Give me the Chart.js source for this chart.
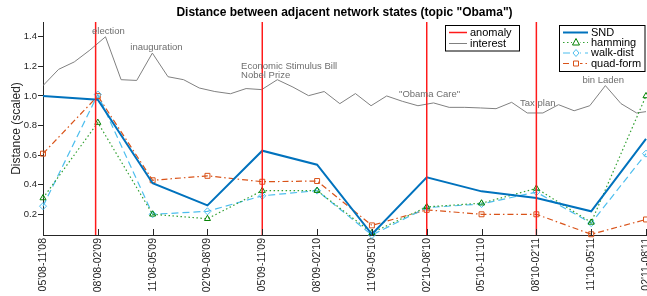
<!DOCTYPE html>
<html>
<head>
  <title>Distance between adjacent network states</title>
  <script src="https://cdn.jsdelivr.net/npm/chart.js"></script>
  <style>
    html, body { margin: 0; padding: 0; background: #fff; overflow: hidden; }
    #wrap { width: 647px; height: 296px; overflow: hidden; }
  </style>
</head>
<body>
  <div id="wrap"><canvas id="distChart" width="647" height="310"></canvas></div>

  <script>
    // 6-month windows
    const periods = ["05'08-11'08", "08'08-02'09", "11'08-05'09", "02'09-08'09", "05'09-11'09", "08'09-02'10",
                     "11'09-05'10", "02'10-08'10", "05'10-11'10", "08'10-02'11", "11'10-05'11", "02'11-08'11"];

    const snd      = [1.0, 0.975, 0.41, 0.26, 0.63, 0.535, 0.065, 0.45, 0.355, 0.31, 0.22, 0.71];
    const hamming  = [0.31, 0.82, 0.20, 0.17, 0.36, 0.36, 0.075, 0.25, 0.275, 0.375, 0.145, 1.0];
    const walkDist = [0.255, 1.01, 0.20, 0.22, 0.325, 0.36, 0.06, 0.245, 0.27, 0.35, 0.14, 0.61];
    const quadForm = [0.61, 1.0, 0.43, 0.46, 0.42, 0.425, 0.125, 0.23, 0.20, 0.20, 0.065, 0.165];

    // search interest, finer sampling than the windows
    const interest = [1.07, 1.18, 1.23, 1.31, 1.40, 1.11, 1.105, 1.29, 1.13, 1.11,
                      1.054, 1.03, 1.015, 1.05, 1.043, 1.11, 1.06, 1.002, 1.03, 0.948,
                      1.016, 0.934, 1.0, 0.964, 0.934, 0.953, 0.923, 0.923, 0.919, 0.914,
                      0.957, 0.885, 0.885, 0.941, 0.90, 0.934, 1.07, 0.948, 0.885, 0.90];

    // anomalies (window index)
    const anomalyAt = [0.96, 4, 7, 9];

    const eventNames = ['election', 'inauguration', 'Economic Stimulus Bill', 'Nobel Prize', '"Obama Care"', 'Tax plan', 'bin Laden'];

    const FONT = '"Liberation Sans", Arial, Helvetica, sans-serif';
    const AXIS = '#262626';
    const RED = '#ff1a1a';

    Chart.defaults.font.family = FONT;

    // where the event labels sit (interest index, value)
    const eventPos = [[3.14, 1.436], [5.59, 1.326], [12.68, 1.203], [12.68, 1.14], [22.79, 1.012], [30.54, 0.95], [34.53, 1.105]];

    function line(ctx, x1, y1, x2, y2) {
      ctx.beginPath(); ctx.moveTo(x1, y1); ctx.lineTo(x2, y2); ctx.stroke();
    }

    function marker(ctx, style, x, y, color) {
      ctx.save();
      ctx.setLineDash([]);
      ctx.strokeStyle = color;
      ctx.lineWidth = 1;
      ctx.beginPath();
      if (style === 'triangle') {
        ctx.moveTo(x, y - 4); ctx.lineTo(x + 3.5, y + 2.5); ctx.lineTo(x - 3.5, y + 2.5); ctx.closePath();
      } else if (style === 'rectRot') {
        ctx.moveTo(x, y - 3.5); ctx.lineTo(x + 3, y); ctx.lineTo(x, y + 3.5); ctx.lineTo(x - 3, y); ctx.closePath();
      } else if (style === 'rect') {
        ctx.rect(x - 2.5, y - 2.5, 5, 5);
      }
      ctx.stroke();
      ctx.restore();
    }

    const overlay = {
      id: 'overlay',
      afterDatasetsDraw(chart) {
        const { ctx, chartArea: a, scales: { x, x2, y } } = chart;
        ctx.save();

        // anomaly lines
        ctx.strokeStyle = RED;
        ctx.lineWidth = 1.5;
        anomalyAt.forEach(v => {
          const px = x.getPixelForValue(v);
          line(ctx, px, a.top, px, a.bottom);
        });

        // x ticks, pointing inward
        ctx.strokeStyle = AXIS;
        ctx.lineWidth = 1;
        periods.forEach((p, i) => {
          const px = Math.round(x.getPixelForValue(i)) + 0.5;
          line(ctx, px, a.bottom, px, a.bottom - 6);
        });

        // event labels
        ctx.fillStyle = '#6e6e6e';
        ctx.font = '9.5px ' + FONT;
        ctx.textAlign = 'left';
        ctx.textBaseline = 'middle';
        eventNames.forEach((t, i) => {
          ctx.fillText(t, x2.getPixelForValue(eventPos[i][0]), y.getPixelForValue(eventPos[i][1]));
        });

        // title
        ctx.fillStyle = '#000';
        ctx.font = 'bold 12px ' + FONT;
        ctx.textAlign = 'center';
        ctx.fillText('Distance between adjacent network states (topic "Obama")', (a.left + a.right) / 2, 13);

        // legend 1
        ctx.font = '11px ' + FONT;
        ctx.textAlign = 'left';
        ctx.fillStyle = '#fff';
        ctx.fillRect(445.5, 25.5, 74, 25.5);
        ctx.strokeStyle = '#000';
        ctx.strokeRect(445.5, 25.5, 74, 25.5);
        ctx.lineWidth = 1.5;
        ctx.strokeStyle = RED;
        line(ctx, 449, 32.5, 467, 32.5);
        ctx.lineWidth = 1;
        ctx.strokeStyle = '#808080';
        line(ctx, 449, 43.5, 467, 43.5);
        ctx.fillStyle = '#000';
        ctx.fillText('anomaly', 470, 32.5);
        ctx.fillText('interest', 470, 43.5);

        // legend 2
        ctx.fillStyle = '#fff';
        ctx.fillRect(559.5, 25.5, 85.5, 46);
        ctx.strokeStyle = '#000';
        ctx.strokeRect(559.5, 25.5, 85.5, 46);
        const rows = [32.5, 42.5, 53, 63.5];
        chart.data.datasets.slice(0, 4).forEach((ds, i) => {
          const ly = rows[i];
          ctx.save();
          ctx.strokeStyle = ds.borderColor;
          ctx.lineWidth = ds.borderWidth;
          ctx.setLineDash(ds.borderDash || []);
          line(ctx, 563, ly, 588, ly);
          ctx.restore();
          if (ds.pointStyle && ds.pointRadius > 0) {
            ctx.fillStyle = '#fff';
            ctx.fillRect(572, ly - 4, 8, 8);
            marker(ctx, ds.pointStyle, 576, ly, ds.pointBorderColor);
          }
          ctx.fillStyle = '#000';
          ctx.fillText(ds.label, 591, ly);
        });

        ctx.restore();
      }
    };

    const ctx = document.getElementById('distChart').getContext('2d');

    new Chart(ctx, {
      type: 'line',
      data: {
        labels: periods,
        datasets: [
          { label: 'SND', data: snd, borderColor: '#0072BD', borderWidth: 2, pointRadius: 0, clip: false },
          { label: 'hamming', data: hamming, borderColor: 'rgb(50,160,50)', borderWidth: 1.2, borderDash: [1.5, 2.5],
            pointStyle: 'triangle', pointRadius: 3.5, pointBorderColor: '#008000', pointBorderWidth: 1,
            pointBackgroundColor: 'rgba(0,0,0,0)', clip: false },
          { label: 'walk-dist', data: walkDist, borderColor: '#4DBEEE', borderWidth: 1.2, borderDash: [7, 4],
            pointStyle: 'rectRot', pointRadius: 3.5, pointBorderColor: '#4DBEEE', pointBorderWidth: 1,
            pointBackgroundColor: 'rgba(0,0,0,0)', clip: false },
          { label: 'quad-form', data: quadForm, borderColor: '#D95319', borderWidth: 1.2, borderDash: [6, 3, 1.5, 3],
            pointStyle: 'rect', pointRadius: 3.5, pointBorderColor: '#D95319', pointBorderWidth: 1,
            pointBackgroundColor: 'rgba(0,0,0,0)', clip: false },
          { label: 'interest', data: interest.map((v, i) => ({ x: i, y: v })), xAxisID: 'x2',
            borderColor: '#808080', borderWidth: 1, pointRadius: 0 }
        ]
      },
      options: {
        responsive: false,
        animation: false,
        devicePixelRatio: 1,
        events: [],
        layout: { autoPadding: false, padding: { top: 22, right: 1, left: 0, bottom: 0 } },
        plugins: { legend: { display: false }, tooltip: { enabled: false } },
        elements: { line: { tension: 0 } },
        scales: {
          x: {
            type: 'category',
            grid: { display: true, drawOnChartArea: false, drawTicks: false },
            border: { color: AXIS },
            ticks: { maxRotation: 90, minRotation: 90, autoSkip: false, padding: 3, color: AXIS, font: { size: 10.5 } },
            afterFit: (s) => { s.height = 75; s.paddingLeft = 0; s.paddingRight = 0; }
          },
          x2: { type: 'linear', display: false, min: 0, max: 38.6 },
          y: {
            min: 0.06,
            max: 1.5,
            grid: { drawOnChartArea: false, tickLength: 5, color: AXIS },
            border: { color: AXIS },
            ticks: { stepSize: 0.2, includeBounds: false, padding: 1, color: AXIS, font: { size: 9.5 } },
            title: { display: true, text: 'Distance (scaled)', color: AXIS, font: { size: 12 }, padding: { top: 9, bottom: 0 } },
            afterFit: (s) => { s.width = 43; }
          }
        }
      },
      plugins: [overlay]
    });
  </script>
</body>
</html>
